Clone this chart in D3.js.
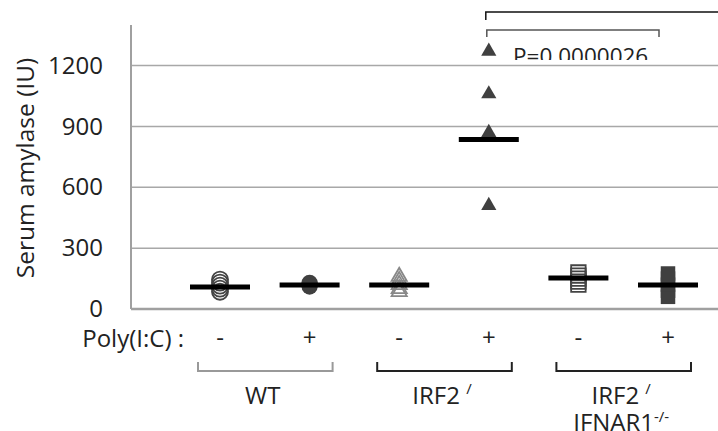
<!DOCTYPE html>
<html>
<head>
<meta charset="utf-8">
<script src="https://cdn.jsdelivr.net/npm/d3@7"></script>
<style>
  body { margin: 0; background: #fff; }
  svg { display: block; }
  text { font-family: "Open Sans", sans-serif; fill: #222; }
</style>
</head>
<body>
<div id="chart"></div>
<script>
var svgWidth = 718;
var svgHeight = 431;

// chart values
var categories = ["WT-", "WT+", "IRF2-", "IRF2+", "DKO-", "DKO+"];
var treatLabels = ["-", "+", "-", "+", "-", "+"];
var wtMinus = [85, 100, 115, 130, 145];
var wtPlus = [110, 115, 120, 125, 130];
var irfMinus = [85, 100, 120, 140, 160];
var irfPlus = [1270, 1060, 870, 510];
var dkoMinus = [120, 135, 150, 165, 180];
var dkoPlus = [60, 90, 120, 150, 175];
var groupMeans = [108, 118, 118, 836, 153, 118];
var yTicks = [0, 300, 600, 900, 1200];

var series = [
  { cat: "WT-", values: wtMinus, shape: "circle", filled: false },
  { cat: "WT+", values: wtPlus, shape: "circle", filled: true },
  { cat: "IRF2-", values: irfMinus, shape: "triangle", filled: false },
  { cat: "IRF2+", values: irfPlus, shape: "triangle", filled: true },
  { cat: "DKO-", values: dkoMinus, shape: "square", filled: false },
  { cat: "DKO+", values: dkoPlus, shape: "square", filled: true }
];

var svg = d3.select("#chart")
  .append("svg")
  .attr("width", svgWidth)
  .attr("height", svgHeight);

var plotLeft = 131;
var plotRight = 718;

var yScale = d3.scaleLinear()
  .domain([0, 1400])
  .range([309, 25]);

var xScale = d3.scalePoint()
  .domain(categories)
  .range([220, 668]);

// gridlines
svg.append("g")
  .selectAll("line")
  .data(yTicks.filter(d => d > 0))
  .enter()
  .append("line")
  .attr("x1", plotLeft)
  .attr("x2", plotRight)
  .attr("y1", d => yScale(d))
  .attr("y2", d => yScale(d))
  .attr("stroke", "#a8a8a8")
  .attr("stroke-width", 1.5);

// y axis, labels only
var leftAxis = d3.axisLeft(yScale)
  .tickValues(yTicks)
  .tickFormat(d3.format("d"))
  .tickSize(0)
  .tickPadding(28);

var yAxis = svg.append("g")
  .attr("transform", `translate(${plotLeft}, 0)`)
  .call(leftAxis);
yAxis.select(".domain").remove();
yAxis.selectAll("text")
  .attr("font-size", "24px")
  .attr("font-family", "Open Sans, sans-serif")
  .attr("fill", "#222");

// axis lines
svg.append("line")
  .attr("x1", plotLeft).attr("x2", plotLeft)
  .attr("y1", yScale(1400)).attr("y2", yScale(0))
  .attr("stroke", "#a0a0a0")
  .attr("stroke-width", 2);
svg.append("line")
  .attr("x1", plotLeft).attr("x2", plotRight)
  .attr("y1", yScale(0)).attr("y2", yScale(0))
  .attr("stroke", "#a0a0a0")
  .attr("stroke-width", 2.5);

// y title
svg.append("text")
  .attr("transform", `translate(34, ${168}) rotate(-90)`)
  .attr("text-anchor", "middle")
  .attr("font-size", "24.5px")
  .text("Serum amylase (IU)");

// markers
var symbolOf = {
  circle: d3.symbol().type(d3.symbolCircle).size(Math.PI * 64),
  triangle: d3.symbol().type(d3.symbolTriangle).size(100),
  square: d3.symbol().type(d3.symbolSquare).size(210)
};

series.forEach(function(s) {
  svg.append("g")
    .selectAll("path")
    .data(s.values)
    .enter()
    .append("path")
    .attr("transform", d => `translate(${xScale(s.cat)}, ${yScale(d)})`)
    .attr("d", symbolOf[s.shape]())
    .attr("fill", s.filled ? "#404040" : "none")
    .attr("stroke", s.filled ? "none" : (s.shape === "triangle" ? "#888" : "#444"))
    .attr("stroke-width", 1.8);
});

// mean lines
svg.append("g")
  .selectAll("line")
  .data(groupMeans)
  .enter()
  .append("line")
  .attr("x1", (d, i) => xScale(categories[i]) - 30)
  .attr("x2", (d, i) => xScale(categories[i]) + 30)
  .attr("y1", d => yScale(d))
  .attr("y2", d => yScale(d))
  .attr("stroke", "#000")
  .attr("stroke-width", 5);

// significance brackets
svg.append("path")
  .attr("d", `M${xScale("IRF2+") - 3},20 V12 H${plotRight}`)
  .attr("fill", "none")
  .attr("stroke", "#111")
  .attr("stroke-width", 1.5);
svg.append("path")
  .attr("d", `M${xScale("IRF2+") - 2},37 V30 H${xScale("DKO+") - 9} V37`)
  .attr("fill", "none")
  .attr("stroke", "#555")
  .attr("stroke-width", 1.5);

svg.append("clipPath")
  .attr("id", "pclip")
  .append("rect")
  .attr("x", 0).attr("y", 0)
  .attr("width", svgWidth).attr("height", 60);
svg.append("text")
  .attr("x", 513)
  .attr("y", 64)
  .attr("clip-path", "url(#pclip)")
  .attr("font-family", "Liberation Serif, serif")
  .attr("font-size", "22.5px")
  .attr("fill", "#111")
  .text("P=0.0000026");

// treatment row
svg.append("text")
  .attr("x", 184)
  .attr("y", 347)
  .attr("text-anchor", "end")
  .attr("font-size", "24px")
  .text("Poly(I:C) :");

svg.append("g")
  .selectAll("text")
  .data(treatLabels)
  .enter()
  .append("text")
  .attr("x", (d, i) => xScale(categories[i]))
  .attr("y", 346)
  .attr("text-anchor", "middle")
  .attr("font-size", "24px")
  .text(d => d);

// group brackets
var groups = [
  { a: "WT-", b: "WT+", color: "#999" },
  { a: "IRF2-", b: "IRF2+", color: "#222" },
  { a: "DKO-", b: "DKO+", color: "#222" }
];
svg.append("g")
  .selectAll("path")
  .data(groups)
  .enter()
  .append("path")
  .attr("d", g => `M${xScale(g.a) - 22},362 V371 H${xScale(g.b) + 23} V362`)
  .attr("fill", "none")
  .attr("stroke", g => g.color)
  .attr("stroke-width", 2);

function midOf(g) { return (xScale(g.a) + xScale(g.b)) / 2; }

svg.append("text")
  .attr("x", midOf(groups[0]) - 2)
  .attr("y", 404)
  .attr("text-anchor", "middle")
  .attr("font-size", "24px")
  .text("WT");

var irfLabel = svg.append("text")
  .attr("x", midOf(groups[1]) - 2)
  .attr("y", 404)
  .attr("text-anchor", "middle")
  .attr("font-size", "24px");
irfLabel.append("tspan").text("IRF2 ");
irfLabel.append("tspan").attr("dy", -10).attr("font-size", "15px").text("/");

var dkoLabel = svg.append("text")
  .attr("x", midOf(groups[2]) - 2)
  .attr("y", 404)
  .attr("text-anchor", "middle")
  .attr("font-size", "24px");
dkoLabel.append("tspan").text("IRF2 ");
dkoLabel.append("tspan").attr("dy", -10).attr("font-size", "15px").text("/");

var dkoLabel2 = svg.append("text")
  .attr("x", midOf(groups[2]) - 2)
  .attr("y", 431)
  .attr("text-anchor", "middle")
  .attr("font-size", "24px");
dkoLabel2.append("tspan").text("IFNAR1");
dkoLabel2.append("tspan").attr("dy", -9).attr("font-size", "15px").text("-/-");
</script>
</body>
</html>
